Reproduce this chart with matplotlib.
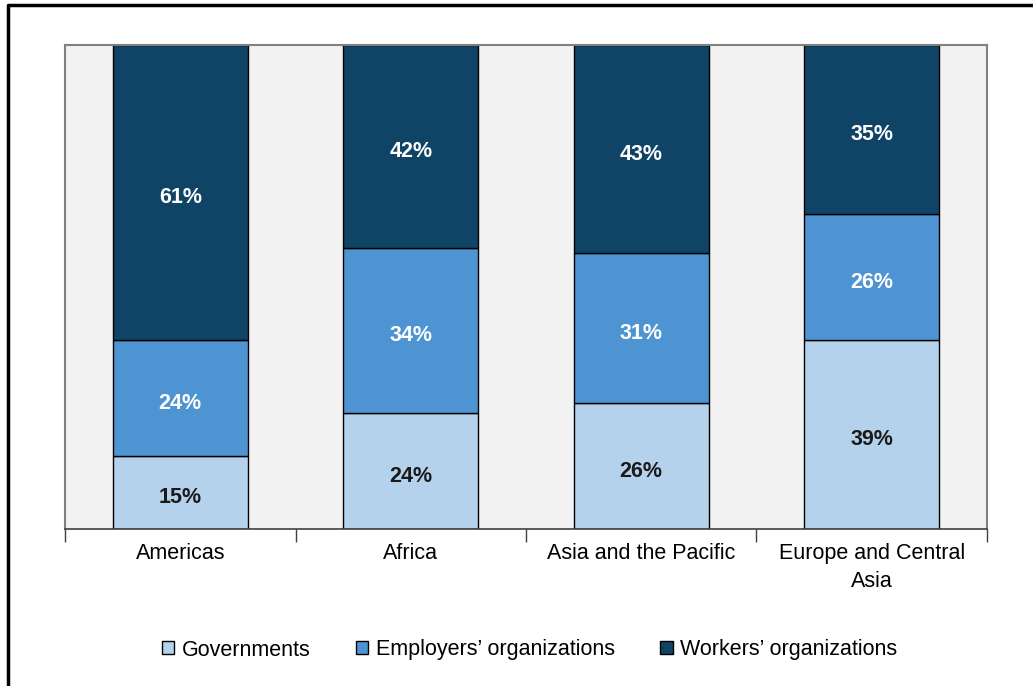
import matplotlib.pyplot as plt
import numpy as np
from matplotlib.lines import Line2D

plt.rcParams["font.family"] = ["Liberation Sans", "DejaVu Sans"]

regions = ["Americas", "Africa", "Asia and the Pacific", "Europe and Central\nAsia"]
series = ["Governments", "Employers\u2019 organizations", "Workers\u2019 organizations"]
governments = [15, 24, 26, 39]
employers = [24, 34, 31, 26]
workers = [61, 42, 43, 35]

colors = ["#B5D2EC", "#4F94D2", "#0F4466"]
text_colors = ["#1a1a1a", "white", "white"]

fig = plt.figure(figsize=(10.33, 6.86), dpi=100)
ax = fig.add_axes([65 / 1033, 1 - 529 / 686, 922 / 1033, 484 / 686])
ax.set_facecolor("#F2F2F2")

x = np.arange(len(regions))
bottom = np.zeros(len(regions))
for vals, name, col, tcol in zip([governments, employers, workers], series, colors, text_colors):
    vals = np.array(vals, dtype=float)
    ax.bar(x, vals, 0.585, bottom=bottom, color=col, edgecolor="black",
           linewidth=1.0, label=name)
    for xi, b, v in zip(x, bottom, vals):
        ax.annotate(f"{v:.0f}%", (xi, b + v / 2), xytext=(0, -2), textcoords="offset points",
                    ha="center", va="center_baseline",
                    color=tcol, fontsize=15.5, fontweight="bold")
    bottom += vals

ax.set_xlim(-0.5, len(regions) - 0.5)
ax.set_ylim(0, 100)
ax.set_yticks([])
ax.set_xticks(x)
ax.set_xticklabels(regions, fontsize=15.5, linespacing=1.45)
ax.tick_params(axis="x", length=0, pad=10)
ax.set_xticks(np.arange(len(regions) + 1) - 0.5, minor=True)
ax.tick_params(axis="x", which="minor", length=9, width=1, color="#404040")

for side in ["left", "top", "right"]:
    ax.spines[side].set_color("#808080")
    ax.spines[side].set_linewidth(1.5)
ax.spines["bottom"].set_color("#404040")
ax.spines["bottom"].set_linewidth(1.2)

fig.legend(loc="center", bbox_to_anchor=(0.513, 1 - 650 / 686), ncol=3,
           frameon=False, fontsize=15.5, handlelength=0.56, handleheight=0.56,
           handletextpad=0.37, columnspacing=2.1)

# outer frame: only left and top edges are visible
fig.lines.append(Line2D([8 / 1033, 8 / 1033, 1.0], [0, 1 - 5 / 686, 1 - 5 / 686],
                        transform=fig.transFigure, color="black", linewidth=2.5))

fig.savefig("out.png", dpi=100)
